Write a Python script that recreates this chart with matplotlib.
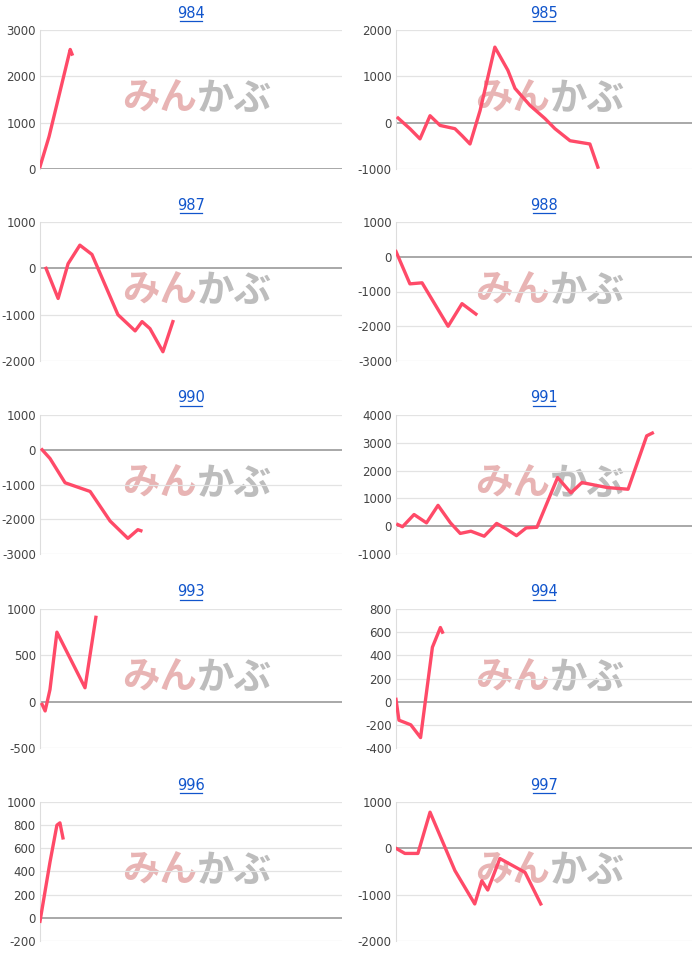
import matplotlib
matplotlib.use("Agg")
import matplotlib.pyplot as plt

titles = ["984", "985", "987", "988", "990", "991", "993", "994", "996", "997"]
xs = [
    [0, 3, 10, 10.6],
    [0.7, 4.7, 8.1, 11.5, 14.9, 19.9, 22.3, 25, 28.4, 33.4, 37.8, 40.2, 45.3, 50.3, 53.7, 58.8, 65.5, 68.2],
    [2, 6, 9.3, 13.2, 17.2, 21.5, 25.8, 31.5, 33.8, 36.4, 40.7, 44],
    [0, 4.7, 8.8, 17.6, 22.3, 27],
    [0.7, 3.3, 8.3, 16.6, 23.2, 29.1, 32.4, 33.4],
    [0.6, 2.2, 6.1, 10.3, 14.2, 18.4, 21.7, 25.3, 29.8, 34, 37.3, 40.7, 44, 47.6, 54.6, 59.1, 62.8, 71.4, 78.4, 84.7, 86.6],
    [0.7, 1.7, 3.3, 5.6, 14.9, 18.5],
    [0, 1, 5, 8.3, 12.3, 15, 15.7],
    [0, 3.3, 5.6, 6.6, 7.6],
    [0, 3, 7.4, 11.5, 19.9, 26.6, 29, 31, 35.1, 43.6, 48.9],
]
ys = [
    [50, 700, 2580, 2480],
    [100, -130, -350, 150, -60, -130, -280, -460, 260, 1630, 1130, 740, 370, 90, -130, -390, -460, -960],
    [0, -650, 100, 500, 300, -350, -1000, -1350, -1150, -1300, -1800, -1150],
    [150, -780, -750, -2000, -1350, -1650],
    [0, -250, -950, -1200, -2050, -2550, -2300, -2330],
    [60, -20, 420, 120, 750, 120, -260, -180, -360, 100, -100, -340, -60, -40, 1750, 1200, 1570, 1390, 1330, 3250, 3350],
    [-30, -100, 130, 750, 150, 910],
    [20, -160, -200, -310, 470, 640, 600],
    [-30, 480, 800, 820, 690],
    [0, -110, -110, 780, -480, -1200, -700, -900, -220, -520, -1200],
]
yranges = [(0, 3000, 1000), (-1000, 2000, 1000), (-2000, 1000, 1000), (-3000, 1000, 1000),
           (-3000, 1000, 1000), (-1000, 4000, 1000), (-500, 1000, 500), (-400, 800, 200),
           (-200, 1000, 200), (-2000, 1000, 1000)]

W, H = 700, 965
fig = plt.figure(figsize=(7, 9.65), dpi=100)
tops = [30, 222, 415, 609, 802]
for i in range(10):
    r, c = divmod(i, 2)
    left = 40 if c == 0 else 396
    right = 342 if c == 0 else 692
    top = tops[r]
    hgt = 139
    ax = fig.add_axes([left / W, 1 - (top + hgt) / H, (right - left) / W, hgt / H])
    lo, hi, st = yranges[i]
    ticks = list(range(lo, hi + 1, st))
    ax.set_ylim(lo, hi)
    ax.set_xlim(0, 100)
    ax.set_yticks(ticks)
    ax.set_yticklabels([str(t) for t in ticks], fontsize=8.5, color="#444444")
    ax.set_xticks([])
    for t in ticks:
        ax.axhline(t, color="#999999" if t == 0 else "#e3e3e3", lw=1.2 if t == 0 else 0.9, zorder=1)
    for s in ["top", "right", "bottom"]:
        ax.spines[s].set_visible(False)
    ax.spines["left"].set_color("#dddddd")
    ax.tick_params(axis="y", length=0, pad=3)
    ax.text(0.52, 0.51, "みん", transform=ax.transAxes, ha="right", va="center", fontsize=27,
            fontweight="bold", color="#e8b4b4", family=["Noto Sans CJK JP"], zorder=0)
    ax.text(0.52, 0.51, "かぶ", transform=ax.transAxes, ha="left", va="center", fontsize=27,
            fontweight="bold", color="#bdbdbd", family=["Noto Sans CJK JP"], zorder=0)
    ax.plot(xs[i], ys[i], color="#ff4a68", lw=2.4, zorder=3, solid_joinstyle="round")
    fig.text((left + right) / 2 / W, 1 - (top - 17) / H, titles[i], ha="center", va="center",
             fontsize=10.5, color="#1155cc", fontfamily="DejaVu Sans")
    tw = 22 / W
    fig.add_artist(plt.Line2D([(left + right) / 2 / W - tw / 2, (left + right) / 2 / W + tw / 2],
                              [1 - (top - 9) / H] * 2, color="#1155cc", lw=0.9))
fig.savefig("out.png", dpi=100, facecolor="white")
